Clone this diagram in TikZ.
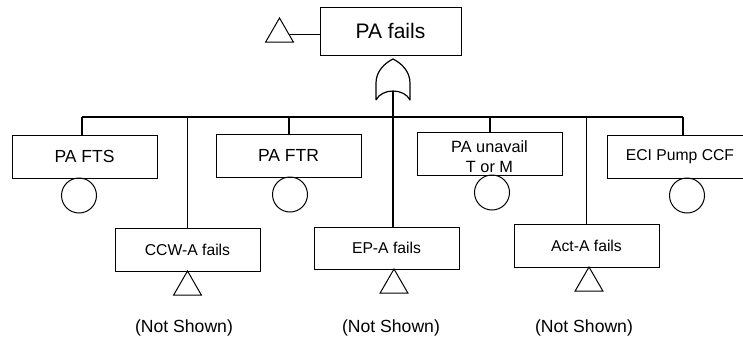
\documentclass[tikz,border=0pt]{standalone}
\usepackage{fontspec}
\setmainfont{Liberation Sans}
\usetikzlibrary{positioning, shapes.geometric}

\tikzset{
  event/.style={draw, line width=1pt, minimum width=145pt, minimum height=43pt,
    inner sep=0pt, outer sep=0pt, align=center, font=\fontsize{15.7}{20}\selectfont},
  basic/.style={draw, circle, line width=1pt, minimum size=35pt, inner sep=0pt, outer sep=0pt},
  xfer/.style={draw, regular polygon, regular polygon sides=3, line width=1pt,
    minimum size=32.3pt, inner sep=0pt, outer sep=0pt},
  note/.style={font=\fontsize{17.6}{20}\selectfont},
  bus/.style={line width=2pt},
  feed/.style={line width=1pt},
  gateline/.style={line width=1.2pt, line join=round},
}

\begin{document}
\begin{tikzpicture}[x=1pt, y=-1pt]
	\useasboundingbox (0,0) rectangle (743,343);
	% top event
	\node[event, minimum width=141pt, minimum height=48pt, font=\fontsize{21}{24}\selectfont] (pafails) at (390.5,31) {PA fails};
	\node[xfer, anchor=north] (patri) at (279.5,18) {};
	\draw[feed] (patri) -- (patri -| pafails.west);
	
	% or gate
	\coordinate (orgate) at (393,91);
	\begin{scope}[shift={(orgate)}]
		\draw[gateline] (-17,9) -- (-17,-8) .. controls (-17,-20) and (-8,-28) .. (0,-32)
			.. controls (8,-28) and (17,-20) .. (17,-8) -- (17,9)
			.. controls (11,-3) and (-11,-3) .. (-17,9);
	\end{scope}
	
	% bus
	\coordinate (busL) at (82,117);
	\coordinate (busR) at (683,117);
	
	% events
	\node[event, font=\fontsize{17.5}{20}\selectfont] (pafts) at (84.5,156.5) {PA FTS};
	\node[event, font=\fontsize{17.5}{20}\selectfont] (paftr) at (288.5,155.5) {PA FTR};
	\node[event, font=\fontsize{16.3}{20}\selectfont] (paunavail) at (489.5,153.5) {\rule{0pt}{19pt}PA unavail\\T or M};
	\node[event] (eci) at (680,156.5) {ECI Pump CCF};
	\node[event] (ccw) at (187.5,249.5) {CCW-A fails};
	\node[event, minimum height=42pt] (epa) at (386.5,248) {EP-A fails};
	\node[event] (acta) at (586.5,245.5) {Act-A fails};
	
	% basic events
	\node[basic, below=0pt of pafts, xshift=-5.5pt] (ftsev) {};
	\node[basic, below=0pt of paftr, xshift=1.5pt] (ftrev) {};
	\node[basic, below=0pt of paunavail, xshift=2.5pt] (unavailev) {};
	\node[basic, below=0pt of eci, xshift=7pt] (ecirev) {};
	
	% transfers
	\node[xfer, below=0pt of ccw] (ccwtri) {};
	\node[xfer, below=0pt of epa, xshift=7.5pt] (epatri) {};
	\node[xfer, below=0pt of acta, xshift=2.5pt] (actatri) {};
	
	\node[note] (ccwnote) at (184,328) {(Not Shown)};
	\node[note] (epanote) at (391,328) {(Not Shown)};
	\node[note] (actanote) at (584,328) {(Not Shown)};
	
	% connections
	\draw[bus] (busL) -- (busR);
	\draw[bus] (busL) -- (busL |- pafts.north);
	\draw[bus] (paftr.north |- busL) -- (paftr.north);
	\draw[bus] (paunavail.north |- busL) -- (paunavail.north);
	\draw[bus] (busR) -- (busR |- eci.north);
	\draw[bus] (orgate) -- (orgate |- epa.north);
	\draw[feed] (ccw.north |- busL) -- (ccw.north);
	\draw[feed] (acta.north |- busL) -- (acta.north);
\end{tikzpicture}
\end{document}
